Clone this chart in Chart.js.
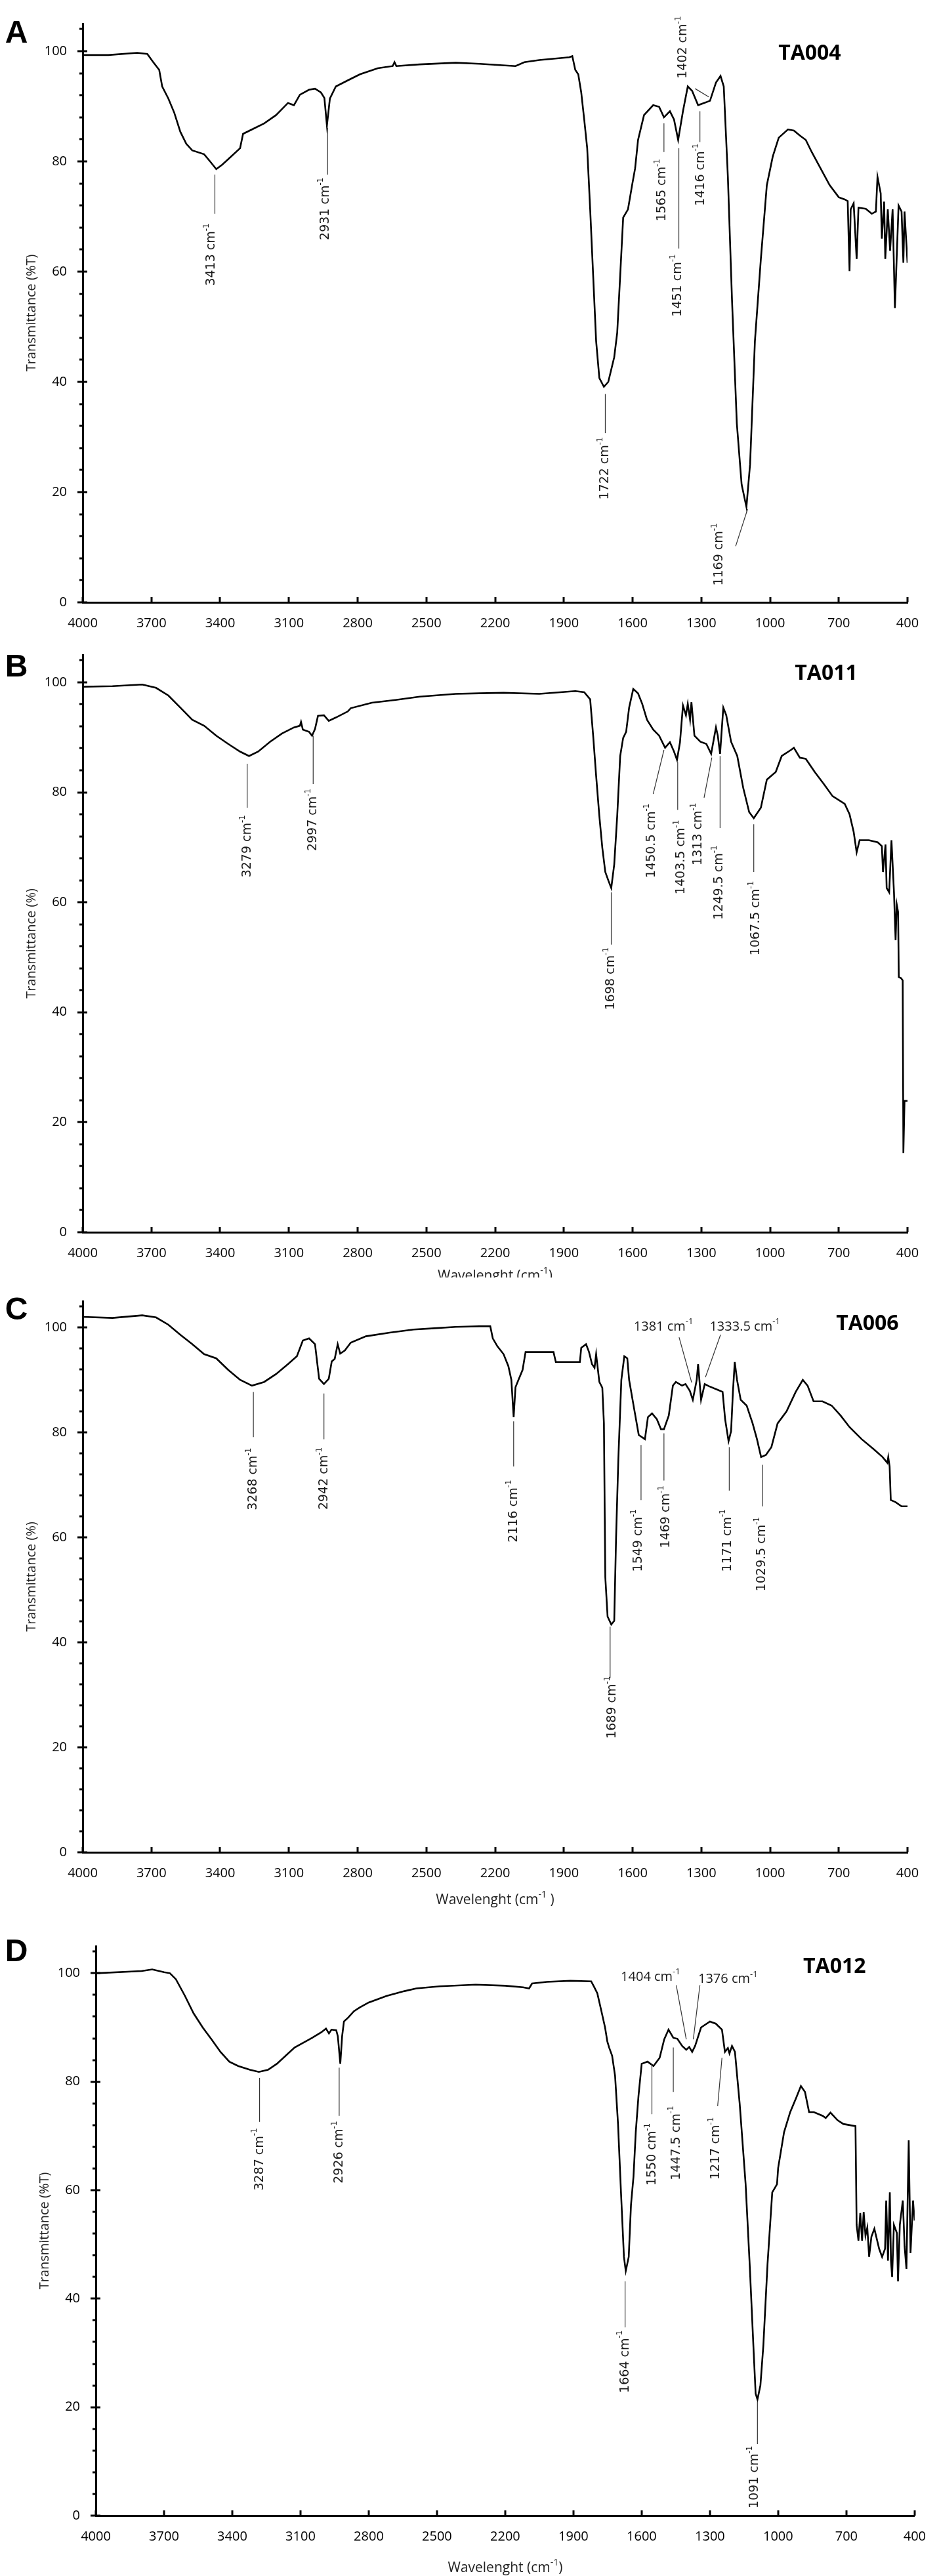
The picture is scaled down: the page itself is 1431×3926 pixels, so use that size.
<!DOCTYPE html>
<html><head><meta charset="utf-8">
<script src="https://cdn.jsdelivr.net/npm/chart.js@4.4.1/dist/chart.umd.min.js"></script>
<style>
html,body{margin:0;padding:0;background:#fff;}
#wrap{position:relative;width:1431px;height:3926px;overflow:hidden;background:#fff;}
canvas{position:absolute;left:0;background:#fff;}
</style></head><body><div id="wrap">
<canvas id="cA" width="1431" height="985" style="top:0px"></canvas>
<canvas id="cB" width="1431" height="1000" style="top:962px"></canvas>
<canvas id="cC" width="1431" height="983" style="top:1947px"></canvas>
<canvas id="cD" width="1431" height="996" style="top:2930px"></canvas>
</div>
<script>
// ---------- axis ticks ----------
const xTickValues = [4000,3700,3400,3100,2800,2500,2200,1900,1600,1300,1000,700,400];
const yTickValues = [0,20,40,60,80,100];
const yMinorValues = [4,8,12,16,24,28,32,36,44,48,52,56,64,68,72,76,84,88,92,96,104];

// ---------- spectra: [wavenumber cm-1, transmittance %] ----------
const ta004 = [[4000,99.3],[3888,99.3],[3762,99.7],[3718,99.5],[3692,98.0],[3666,96.6],[3653,93.6],[3626,91.4],[3600,88.8],[3574,85.4],[3548,83.2],[3522,82.0],[3470,81.3],[3444,80.0],[3417,78.6],[3391,79.4],[3352,80.9],[3313,82.4],[3300,85.0],[3261,85.8],[3208,86.9],[3156,88.4],[3104,90.6],[3078,90.2],[3052,92.1],[3012,93.0],[2986,93.2],[2960,92.5],[2945,91.5],[2934,86.5],[2921,91.4],[2895,93.6],[2843,94.7],[2790,95.8],[2712,96.9],[2647,97.3],[2639,98.0],[2631,97.3],[2529,97.6],[2372,97.9],[2268,97.7],[2190,97.5],[2111,97.3],[2072,98.0],[2007,98.4],[1876,98.9],[1863,99.1],[1850,96.6],[1837,95.8],[1824,92.5],[1811,87.6],[1798,82.4],[1785,71.3],[1772,59.3],[1759,47.4],[1745,40.7],[1725,39.1],[1706,40.0],[1680,44.5],[1667,48.9],[1654,59.3],[1641,69.8],[1620,71.3],[1602,75.7],[1589,78.7],[1576,83.9],[1550,88.4],[1510,90.2],[1484,89.9],[1463,88.0],[1437,89.1],[1419,87.6],[1401,83.9],[1380,89.1],[1359,93.6],[1340,92.8],[1314,90.2],[1288,90.6],[1262,91.0],[1236,94.3],[1216,95.5],[1202,93.6],[1184,77.2],[1166,54.9],[1145,32.5],[1124,21.4],[1103,17.3],[1087,25.1],[1066,47.4],[1040,62.3],[1014,75.7],[988,80.9],[962,84.3],[922,85.8],[896,85.6],[870,84.7],[844,83.9],[818,81.7],[779,78.7],[740,75.7],[700,73.5],[674,73.1],[661,72.8],[653,60.1],[648,71.3],[635,72.4],[622,62.3],[614,71.6],[582,71.4],[556,70.5],[538,70.9],[531,77.2],[517,74.2],[512,66.0],[502,72.7],[497,62.3],[486,71.3],[476,63.8],[465,71.3],[455,53.4],[439,72.0],[426,70.9],[418,61.6],[413,70.9],[400,61.6]];

const ta011 = [[4000,99.2],[3870,99.3],[3740,99.6],[3680,99.0],[3626,97.6],[3574,95.4],[3522,93.2],[3470,92.1],[3417,90.3],[3365,88.8],[3313,87.4],[3274,86.6],[3234,87.4],[3182,89.2],[3130,90.7],[3078,91.8],[3052,92.1],[3047,92.8],[3039,91.4],[3012,91.0],[2999,90.3],[2986,91.5],[2973,93.9],[2947,94.0],[2926,93.0],[2895,93.6],[2843,94.7],[2830,95.3],[2738,96.3],[2634,96.8],[2529,97.4],[2372,97.9],[2268,98.0],[2163,98.1],[2007,97.9],[1850,98.4],[1811,98.2],[1785,96.9],[1772,90.3],[1759,83.0],[1745,75.7],[1732,69.9],[1719,65.5],[1706,64.0],[1693,62.6],[1680,66.9],[1667,75.7],[1654,86.6],[1641,89.9],[1628,91.0],[1615,95.4],[1597,98.8],[1576,98.0],[1558,96.1],[1537,93.2],[1510,91.4],[1484,90.3],[1458,88.1],[1437,89.1],[1419,87.4],[1406,85.9],[1393,89.1],[1380,95.8],[1367,94.0],[1359,96.1],[1349,93.2],[1343,96.4],[1330,90.3],[1304,89.2],[1278,88.8],[1257,87.0],[1236,91.8],[1228,90.3],[1218,87.0],[1204,95.4],[1191,94.0],[1170,89.2],[1143,86.6],[1117,80.8],[1091,76.4],[1071,75.3],[1040,77.2],[1014,82.3],[975,83.7],[949,86.6],[909,87.7],[896,88.1],[870,86.3],[844,86.1],[805,83.7],[765,81.5],[727,79.3],[674,77.9],[653,76.0],[635,72.8],[622,69.1],[609,71.3],[569,71.3],[530,70.9],[512,70.2],[507,65.5],[496,70.5],[491,62.6],[480,61.8],[470,71.3],[459,61.8],[452,53.1],[447,59.6],[441,58.2],[438,46.4],[428,46.2],[421,45.8],[418,14.4],[413,23.9],[400,23.9]];

const ta006 = [[4000,102.0],[3870,101.8],[3740,102.3],[3680,101.9],[3626,100.5],[3574,98.6],[3522,96.8],[3470,94.9],[3417,94.1],[3365,91.9],[3313,90.0],[3261,88.9],[3208,89.6],[3156,91.1],[3104,93.0],[3065,94.5],[3039,97.5],[3012,97.9],[2986,96.8],[2968,90.2],[2947,89.2],[2926,90.2],[2913,93.5],[2900,94.0],[2887,96.8],[2876,95.0],[2856,95.6],[2830,97.1],[2764,98.3],[2660,99.0],[2555,99.6],[2477,99.8],[2372,100.1],[2268,100.2],[2221,100.2],[2210,97.9],[2190,96.4],[2163,94.9],[2142,92.6],[2129,90.0],[2119,82.9],[2111,88.6],[2098,90.0],[2080,91.9],[2067,95.3],[1945,95.3],[1935,93.4],[1830,93.4],[1824,96.1],[1803,96.8],[1790,95.3],[1777,93.0],[1766,92.3],[1759,94.9],[1745,89.6],[1732,88.5],[1725,81.7],[1719,52.4],[1709,44.9],[1693,43.4],[1680,44.1],[1672,59.9],[1662,75.0],[1649,90.0],[1636,94.5],[1623,94.1],[1615,90.0],[1594,84.7],[1573,79.5],[1546,78.7],[1533,82.9],[1515,83.6],[1494,82.5],[1476,80.6],[1463,80.6],[1442,83.2],[1424,88.9],[1411,89.6],[1384,88.9],[1369,89.2],[1350,87.9],[1337,86.2],[1320,90.0],[1314,93.0],[1301,86.2],[1285,89.2],[1267,88.8],[1228,88.1],[1207,87.7],[1196,82.5],[1181,78.3],[1170,80.2],[1162,87.7],[1154,93.4],[1144,90.0],[1128,86.2],[1102,85.1],[1076,81.7],[1057,78.7],[1039,75.3],[1018,75.7],[994,77.2],[967,81.7],[928,84.0],[888,87.7],[857,90.0],[836,88.9],[810,85.9],[771,85.9],[731,85.1],[692,83.2],[653,81.0],[600,78.7],[548,76.8],[509,75.3],[488,74.2],[484,75.3],[478,73.5],[473,67.1],[452,66.7],[426,65.9],[400,65.9]];

const ta012 = [[4000,100.0],[3799,100.4],[3752,100.7],[3700,100.2],[3674,100.0],[3648,98.9],[3609,95.9],[3570,92.6],[3530,90.0],[3491,87.8],[3452,85.5],[3413,83.7],[3374,82.9],[3322,82.2],[3283,81.8],[3243,82.2],[3204,83.3],[3165,84.8],[3126,86.3],[3087,87.2],[3048,88.1],[3009,89.1],[2988,89.8],[2975,88.9],[2964,89.6],[2943,89.5],[2936,88.4],[2925,83.3],[2917,88.4],[2909,91.1],[2891,91.8],[2865,93.0],[2839,93.7],[2800,94.6],[2722,95.8],[2643,96.7],[2591,97.2],[2487,97.6],[2330,97.9],[2200,97.7],[2122,97.4],[2095,97.2],[2082,98.1],[2017,98.4],[1913,98.6],[1822,98.5],[1808,97.4],[1795,96.3],[1777,93.0],[1761,90.0],[1751,87.4],[1743,86.3],[1730,84.8],[1717,81.1],[1704,72.2],[1691,59.6],[1678,47.7],[1670,45.1],[1657,47.7],[1647,57.3],[1636,62.5],[1626,70.7],[1614,77.4],[1600,83.3],[1574,83.7],[1548,82.9],[1521,84.4],[1501,87.8],[1482,89.6],[1461,88.1],[1443,87.9],[1422,86.6],[1404,85.9],[1391,86.4],[1378,85.5],[1365,86.6],[1339,90.0],[1300,91.1],[1274,90.7],[1247,89.6],[1234,85.5],[1221,86.2],[1214,85.2],[1203,86.6],[1190,85.5],[1169,75.9],[1143,61.1],[1125,46.2],[1109,31.4],[1099,22.5],[1091,21.4],[1078,24.0],[1065,31.4],[1047,46.2],[1026,59.6],[1005,61.1],[1000,64.1],[974,70.7],[947,74.4],[921,77.0],[900,79.2],[882,78.1],[864,74.4],[843,74.4],[804,73.7],[791,73.3],[770,74.3],[739,72.9],[713,72.2],[660,71.8],[655,53.6],[647,50.7],[639,55.8],[631,50.7],[624,56.0],[616,51.6],[608,53.1],[600,47.7],[590,51.4],[577,52.9],[556,49.2],[543,47.7],[530,49.2],[525,58.1],[517,47.0],[509,59.6],[504,47.0],[499,44.0],[491,53.6],[478,52.1],[473,43.2],[465,53.6],[452,58.1],[444,49.6],[436,45.5],[426,69.2],[418,48.4],[407,58.1],[400,54.4]];

// ---------- peak annotations: [label, lineWn1, lineT1, lineWn2, lineT2, textWn, textT, vertical] ----------
const ta004Peaks = [
 ['3413',3423,77.6,3423,70.5,3439,63.1,true],
 ['2931',2931,86.1,2931,77.6,2939,71.4,true],
 ['1722',1719,37.8,1719,30.7,1719,24.3,true],
 ['1565',1463,86.9,1463,81.7,1471,74.8,true],
 ['1451',1398,82.4,1398,64.2,1401,57.5,true],
 ['1416',1306,89.1,1306,83.5,1301,77.6,true],
 ['1402',1327,93.2,1267,91.7,1380,100.7,true],
 ['1169',1098,16.9,1150,10.2,1223,8.7,true]
];
const ta011Peaks = [
 ['3279',3282,85.2,3282,77.2,3282,70.2,true],
 ['2997',2994,90.3,2994,81.5,2994,75.0,true],
 ['1698',1693,61.8,1693,52.3,1693,46.1,true],
 ['1450.5',1463,87.7,1510,79.7,1518,71.2,true],
 ['1403.5',1403,85.5,1403,76.8,1388,68.2,true],
 ['1313',1254,86.3,1288,79.0,1314,72.4,true],
 ['1249.5',1218,86.6,1218,73.5,1223,63.6,true],
 ['1067.5',1071,74.2,1071,65.5,1061,57.1,true]
];
const ta006Peaks = [
 ['3268',3255,87.7,3255,79.1,3255,71.1,true],
 ['2942',2947,87.4,2947,78.7,2947,71.2,true],
 ['2116',2119,82.1,2119,73.5,2119,65.0,true],
 ['1689',1698,43.0,1698,33.2,1688,27.6,true],
 ['1549',1563,77.6,1563,67.1,1573,59.4,true],
 ['1469',1463,79.8,1463,70.8,1453,63.9,true],
 ['1171',1178,77.2,1178,68.9,1184,59.4,true],
 ['1029.5',1032,73.8,1032,65.9,1035,56.8,true],
 ['1381',1397,98.1,1342,89.5,1465,100.1,false],
 ['1333.5',1216,98.6,1282,90.5,1110,100.1,false]
];
const ta012Peaks = [
 ['3287',3280,80.7,3280,72.6,3280,65.7,true],
 ['2926',2930,82.6,2930,73.7,2930,67.0,true],
 ['1664',1673,43.2,1673,34.7,1673,28.4,true],
 ['1550',1555,83.3,1555,74.0,1553,66.6,true],
 ['1447.5',1461,86.3,1461,78.1,1448,68.7,true],
 ['1217',1247,84.4,1266,75.5,1274,67.7,true],
 ['1091',1091,21.0,1091,13.2,1104,7.1,true],
 ['1404',1448,97.8,1404,87.8,1561,99.3,false],
 ['1376',1344,97.8,1373,87.8,1221,98.9,false]
];

const sampleNames = ['TA004','TA011','TA006','TA012'];
const sampleNameAt = [[827,99.5],[755,101.6],[575,100.7],[752,101.2]];
const panelLetters = ['A','B','C','D'];

// ---------- layout / style ----------
const FONT = "'Open Sans', 'Liberation Sans', sans-serif";
const ANNFONT = "'DejaVu Sans', Verdana, sans-serif";
const panels = [
 {id:'cA', data:ta004, peaks:ta004Peaks, idx:0, left:126, right:1383, top:17, bottom:918, h:985, yTitle:'Transmittance (%T)', xTitle:null, letterDy:16},
 {id:'cB', data:ta011, peaks:ta011Peaks, idx:1, left:126, right:1383, top:17, bottom:916, h:1000, yTitle:'Transmittance (%)', xTitle:')', xTitleDy:67, letterDy:20},
 {id:'cC', data:ta006, peaks:ta006Peaks, idx:2, left:126, right:1383, top:2, bottom:876, h:983, yTitle:'Transmittance (%)', xTitle:' )', xTitleDy:73, letterDy:15},
 {id:'cD', data:ta012, peaks:ta012Peaks, idx:3, left:146, right:1405, top:5, bottom:904, h:996, yTitle:'Transmittance (%T)', xTitle:')', xTitleDy:80, letterDy:10}
];

function drawParts(ctx, parts, x, y, rot, size, family, weight){
  ctx.save();
  ctx.translate(x, y);
  if (rot) ctx.rotate(-Math.PI/2);
  ctx.textBaseline = 'middle';
  ctx.textAlign = 'left';
  const supSize = Math.round(size*0.65);
  let total = 0;
  const widths = parts.map(p => {
    ctx.font = (weight||'normal') + ' ' + (p.sup ? supSize : size) + 'px ' + family;
    const w = ctx.measureText(p.t).width; total += w; return w;
  });
  let cx = -total/2;
  parts.forEach((p,i) => {
    ctx.font = (weight||'normal') + ' ' + (p.sup ? supSize : size) + 'px ' + family;
    ctx.fillText(p.t, cx, p.sup ? -size*0.38 : 0);
    cx += widths[i];
  });
  ctx.restore();
}

function makeDeco(p){
  return {
    id: 'deco' + p.idx,
    afterDraw(chart){
      const {ctx, chartArea: ca, scales: {x, y}} = chart;
      ctx.save();
      ctx.strokeStyle = '#000';
      ctx.lineWidth = 3;
      // y ticks
      yTickValues.forEach(v => {
        const py = Math.round(y.getPixelForValue(v));
        ctx.beginPath(); ctx.moveTo(ca.left-8, py); ctx.lineTo(ca.left+7, py); ctx.stroke();
      });
      yMinorValues.forEach(v => {
        const py = Math.round(y.getPixelForValue(v));
        ctx.beginPath(); ctx.moveTo(ca.left-5, py); ctx.lineTo(ca.left, py); ctx.stroke();
      });
      // x ticks (inward)
      xTickValues.forEach(v => {
        const px = Math.round(x.getPixelForValue(v));
        ctx.beginPath(); ctx.moveTo(px, ca.bottom); ctx.lineTo(px, ca.bottom-8); ctx.stroke();
      });
      // peak annotation lines
      ctx.strokeStyle = '#333';
      ctx.lineWidth = 1.2;
      p.peaks.forEach(a => {
        ctx.beginPath();
        ctx.moveTo(x.getPixelForValue(a[1]), y.getPixelForValue(a[2]));
        ctx.lineTo(x.getPixelForValue(a[3]), y.getPixelForValue(a[4]));
        ctx.stroke();
      });
      ctx.fillStyle = '#1a1a1a';
      p.peaks.forEach(a => {
        const tx = x.getPixelForValue(a[5]), ty = y.getPixelForValue(a[6]);
        if (a[7]) drawParts(ctx, [{t:a[0]+' cm'},{t:'-1',sup:true}], tx, ty, true, 19, ANNFONT);
        else drawParts(ctx, [{t:a[0]+' cm'},{t:'-1',sup:true}], tx, ty, false, 20, FONT);
      });
      ctx.fillStyle = '#000';
      // sample name
      const nm = sampleNameAt[p.idx];
      drawParts(ctx, [{t:sampleNames[p.idx]}], x.getPixelForValue(nm[0]), y.getPixelForValue(nm[1]), false, 32, FONT, 'bold');
      // panel letter
      drawParts(ctx, [{t:panelLetters[p.idx]}], 25, ca.top + p.letterDy, false, 48, "'Liberation Sans', Arial, sans-serif", 'bold');
      // y title
      ctx.fillStyle = '#222';
      drawParts(ctx, [{t:p.yTitle}], ca.left-78, (ca.top+ca.bottom)/2, true, 20, FONT);
      // x title
      if (p.xTitle) {
        drawParts(ctx, [{t:'Wavelenght (cm'},{t:'-1',sup:true},{t:p.xTitle}], (ca.left+ca.right)/2, ca.bottom + p.xTitleDy, false, 21, FONT);
      }
      ctx.restore();
    }
  };
}

function build(){
  panels.forEach(p => {
    const canvas = document.getElementById(p.id);
    new Chart(canvas, {
      type: 'line',
      data: { datasets: [{
        data: p.data.map(d => ({x: d[0], y: d[1]})),
        borderColor: '#000', borderWidth: 2.6, pointRadius: 0, tension: 0, fill: false
      }]},
      options: {
        responsive: false, animation: false, devicePixelRatio: 1,
        layout: { padding: { left: 0, right: 1431 - p.right, top: p.top, bottom: 0 } },
        plugins: { legend: {display:false}, tooltip: {enabled:false}, title: {display:false} },
        scales: {
          x: {
            type: 'linear', reverse: true, min: 400, max: 4000,
            afterBuildTicks: s => { s.ticks = xTickValues.map(v => ({value: v})); },
            afterFit: s => { s.height = p.h - p.bottom; },
            grid: { display: false, drawTicks: false },
            border: { display: true, color: '#000', width: 3 },
            ticks: { color: '#000', font: { family: FONT, size: 20 }, padding: 20, maxRotation: 0, autoSkip: false,
                     callback: v => String(v) }
          },
          y: {
            type: 'linear', min: 0, max: 105,
            afterBuildTicks: s => { s.ticks = yTickValues.map(v => ({value: v})); },
            afterFit: s => { s.width = p.left; },
            grid: { display: false, drawTicks: false },
            border: { display: true, color: '#000', width: 3 },
            ticks: { color: '#000', font: { family: FONT, size: 20 }, padding: 24, autoSkip: false,
                     callback: v => String(v) }
          }
        }
      },
      plugins: [makeDeco(p)]
    });
  });
}

const fontLoads = document.fonts ? Promise.all([
  document.fonts.load("20px 'Open Sans'"),
  document.fonts.load("bold 32px 'Open Sans'"),
  document.fonts.load("19px 'DejaVu Sans'"),
  document.fonts.load("bold 48px 'Liberation Sans'")
]).catch(()=>{}) : Promise.resolve();
fontLoads.then(build, build);
</script>
</body></html>
